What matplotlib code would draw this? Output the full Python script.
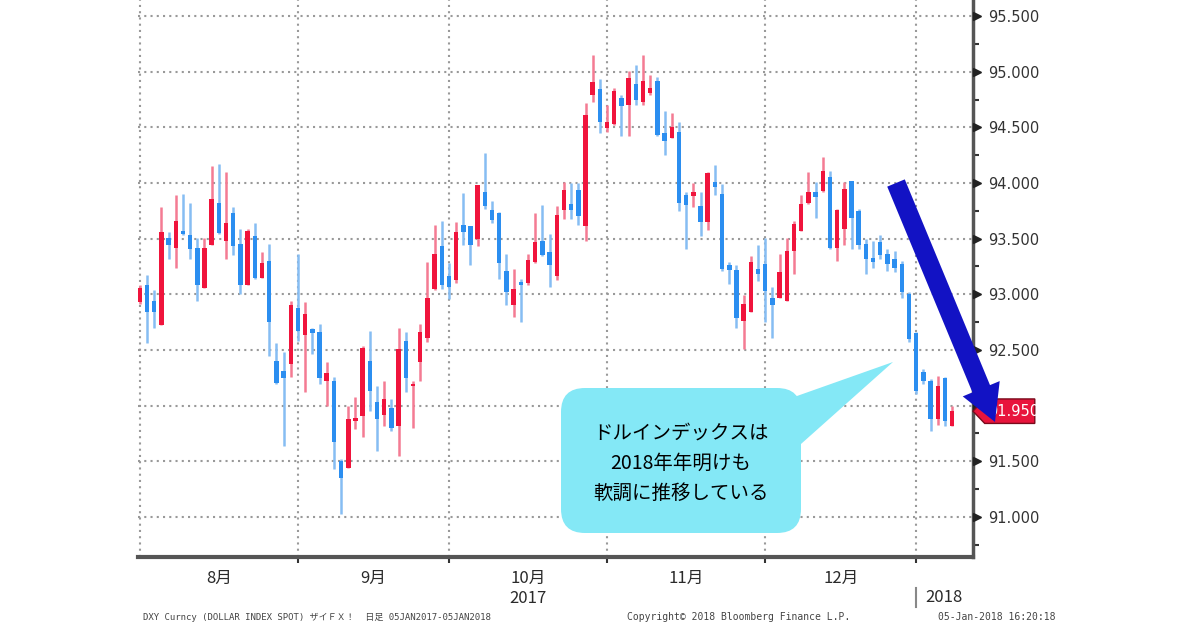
import numpy as np
import matplotlib
matplotlib.use('Agg')
import matplotlib.pyplot as plt
from matplotlib.patches import Polygon, FancyBboxPatch
from matplotlib.transforms import blended_transform_factory

plt.rcParams['font.family'] = ['DejaVu Sans', 'Noto Sans CJK JP']

# daily DXY candles, 2017-08 .. 2018-01-05
opens = [92.93, 93.08, 92.94, 92.72, 93.51, 93.42, 93.57, 93.53, 93.42, 93.06,
         93.44, 93.82, 93.48, 93.73, 93.45, 93.08, 93.52, 93.15, 93.30, 92.40,
         92.31, 92.37, 92.88, 92.63, 92.69, 92.66, 92.22, 92.22, 91.50, 91.44,
         91.86, 91.91, 92.40, 92.03, 91.92, 91.98, 91.82, 92.58, 92.18, 92.39,
         92.61, 93.05, 93.43, 93.16, 93.13, 93.62, 93.61, 93.50, 93.92, 93.76,
         93.73, 93.21, 92.90, 93.11, 93.10, 93.29, 93.48, 93.38, 93.16, 93.76,
         93.81, 93.94, 93.61, 94.79, 94.84, 94.49, 94.53, 94.76, 94.70, 94.89,
         94.73, 94.81, 94.92, 94.45, 94.40, 94.46, 93.89, 93.88, 93.79, 93.65,
         94.01, 93.90, 93.26, 93.22, 92.76, 92.84, 93.23, 93.27, 92.97, 92.97,
         92.94, 93.39, 93.57, 93.82, 93.92, 93.93, 94.05, 93.42, 93.59, 94.02,
         93.75, 93.45, 93.33, 93.47, 93.36, 93.32, 93.27, 93.00, 92.65, 92.30,
         92.22, 91.88, 92.25, 91.82]
highs = [93.08, 93.17, 93.04, 93.78, 93.56, 93.89, 93.90, 93.82, 93.51, 93.51,
         94.15, 94.17, 94.10, 93.78, 93.59, 93.59, 93.64, 93.38, 93.45, 92.56,
         92.48, 92.94, 93.36, 92.93, 92.70, 92.73, 92.39, 92.26, 91.52, 92.00,
         92.08, 92.54, 92.67, 92.18, 92.22, 92.06, 92.70, 92.66, 92.22, 92.73,
         93.29, 93.62, 93.66, 93.28, 93.65, 93.91, 93.61, 93.98, 94.27, 93.84,
         93.74, 93.36, 93.23, 93.14, 93.36, 93.73, 93.80, 93.54, 93.79, 94.01,
         94.00, 94.00, 94.72, 95.15, 94.93, 94.70, 94.85, 94.79, 95.01, 95.06,
         95.15, 94.97, 94.95, 94.65, 94.63, 94.55, 93.92, 94.00, 93.92, 94.10,
         94.16, 93.99, 93.29, 93.26, 92.99, 93.34, 93.44, 93.51, 93.07, 93.36,
         93.51, 93.66, 93.89, 94.10, 94.01, 94.23, 94.11, 93.77, 94.01, 94.02,
         93.77, 93.50, 93.48, 93.53, 93.41, 93.39, 93.30, 93.02, 92.66, 92.33,
         92.24, 92.27, 92.26, 92.00]
lows = [92.91, 92.56, 92.70, 92.72, 93.32, 93.24, 93.53, 93.32, 92.94, 93.06,
        93.44, 93.54, 93.32, 93.35, 93.00, 93.08, 93.14, 93.15, 92.45, 92.19,
        91.64, 92.26, 92.58, 92.12, 92.46, 92.19, 92.00, 91.43, 91.03, 91.44,
        91.79, 91.72, 91.95, 91.59, 91.82, 91.77, 91.55, 92.12, 91.80, 92.22,
        92.57, 93.04, 93.05, 92.96, 93.10, 93.44, 93.26, 93.43, 93.77, 93.64,
        93.14, 92.90, 92.80, 92.75, 93.08, 93.28, 93.34, 93.07, 93.13, 93.68,
        93.68, 93.62, 93.48, 94.73, 94.45, 94.46, 94.52, 94.42, 94.42, 94.70,
        94.70, 94.79, 94.42, 94.25, 94.40, 93.75, 93.41, 93.78, 93.52, 93.58,
        93.89, 93.21, 93.09, 92.70, 92.51, 92.84, 93.12, 92.75, 92.61, 92.97,
        92.94, 93.18, 93.57, 93.81, 93.69, 93.92, 93.41, 93.30, 93.44, 93.41,
        93.41, 93.18, 93.24, 93.32, 93.21, 93.20, 92.97, 92.57, 92.10, 92.19,
        91.77, 91.83, 91.82, 91.82]
closes = [93.06, 92.84, 92.84, 93.56, 93.44, 93.66, 93.54, 93.41, 93.08, 93.42,
          93.86, 93.55, 93.64, 93.43, 93.08, 93.57, 93.15, 93.28, 92.75, 92.20,
          92.25, 92.90, 92.67, 92.82, 92.65, 92.25, 92.29, 91.67, 91.35, 91.88,
          91.89, 92.52, 92.13, 91.88, 92.06, 91.80, 92.51, 92.25, 92.19, 92.66,
          92.97, 93.36, 93.08, 93.07, 93.56, 93.56, 93.44, 93.98, 93.79, 93.67,
          93.28, 93.02, 93.05, 93.08, 93.31, 93.47, 93.35, 93.26, 93.71, 93.94,
          93.76, 93.70, 94.61, 94.91, 94.55, 94.55, 94.83, 94.69, 94.94, 94.75,
          94.92, 94.85, 94.43, 94.38, 94.50, 93.82, 93.80, 93.92, 93.65, 94.09,
          93.96, 93.23, 93.22, 92.79, 92.91, 93.29, 93.18, 93.03, 92.90, 93.20,
          93.39, 93.63, 93.81, 93.92, 93.87, 94.11, 93.42, 93.76, 93.95, 93.69,
          93.44, 93.32, 93.29, 93.35, 93.27, 93.24, 93.02, 92.60, 92.13, 92.22,
          91.88, 92.18, 91.86, 91.95]

# index of first trading day of each month
month_starts = [0, 22, 43, 65, 87, 108]
month_names = ['8月', '9月', '10月', '11月', '12月']
y_ticks = [91.0, 91.5, 92.0, 92.5, 93.0, 93.5, 94.0, 94.5, 95.0, 95.5]
last_price = closes[-1]

callout_lines = ['ドルインデックスは', '2018年年明けも', '軟調に推移している']
footer_left = 'DXY Curncy (DOLLAR INDEX SPOT) ザイＦＸ！  日足 05JAN2017-05JAN2018'
footer_mid = 'Copyright© 2018 Bloomberg Finance L.P.'
footer_right = '05-Jan-2018 16:20:18'

o = np.array(opens); h = np.array(highs); l = np.array(lows); c = np.array(closes)
x = np.arange(len(o))
up = c >= o

fig = plt.figure(figsize=(12, 6.3), dpi=100)
ax = fig.add_axes([138 / 1200, 1 - 557 / 630, (973 - 138) / 1200, 557 / 630])
ax.set_xlim(-0.25, 115.9)
ax.set_ylim(90.64, 95.644)

# dotted grid
for v in y_ticks:
    ax.axhline(v, color='#999999', linestyle=(0, (1, 2)), linewidth=1.5, zorder=1)
for s in month_starts:
    ax.axvline(s, color='#999999', linestyle=(0, (1, 2)), linewidth=1.5, zorder=1)

# candles: red = up, blue = down
wick_col = np.where(up, '#f47b93', '#86bdf3')
body_col = np.where(up, '#f0143c', '#2b8ef0')
ax.vlines(x, l, h, colors=wick_col, linewidth=1.8, zorder=2)
ax.bar(x, np.maximum(np.abs(c - o), 0.018), bottom=np.minimum(o, c), width=0.62,
       color=body_col, linewidth=0, zorder=3)

# axes styling
for sp in ['left', 'top']:
    ax.spines[sp].set_visible(False)
ax.spines['right'].set_color('#555555')
ax.spines['right'].set_linewidth(2.5)
ax.spines['bottom'].set_color('#555555')
ax.spines['bottom'].set_linewidth(3)

ax.yaxis.tick_right()
ax.set_yticks(y_ticks)
ax.set_yticklabels(['' if v == 92.0 else f'{v:.3f}' for v in y_ticks])
ax.set_yticks(np.arange(90.75, 95.6, 0.5), minor=True)
ax.tick_params(axis='y', which='major', length=0, pad=11, labelsize=10.5,
               labelcolor='#333333')
ax.tick_params(axis='y', which='minor', length=4, width=1.5, color='#333333')
ax.set_xticks(month_starts[1:])
ax.set_xticklabels([])
ax.tick_params(axis='x', length=4, width=1.5, color='#333333')

ytr = blended_transform_factory(ax.transAxes, ax.transData)
xtr = blended_transform_factory(ax.transData, ax.transAxes)
ax.plot(np.full(len(y_ticks), 1.005), y_ticks, linestyle='none', marker='>',
        markersize=6, color='#222222', transform=ytr, clip_on=False, zorder=6)

# month labels
cjk = ['Noto Sans CJK JP']
for i, name in enumerate(month_names):
    mid = (month_starts[i] + month_starts[i + 1]) / 2
    ax.text(mid, -0.038, name, transform=xtr, ha='center', va='center',
            fontsize=12, color='#2a2a2a', family=cjk)
ax.text((month_starts[2] + month_starts[3]) / 2, -0.074, '2017', transform=xtr,
        ha='center', va='center', fontsize=12, color='#2a2a2a', family=cjk)
ax.plot([month_starts[-1], month_starts[-1]], [-0.056, -0.09], color='#888888',
        linewidth=1.5, transform=xtr, clip_on=False)
ax.text(month_starts[-1] + 1.2, -0.073, '2018', transform=xtr, ha='left', va='center',
        fontsize=12, color='#2a2a2a', family=cjk)

# last price tag
hh = 0.11
tag = Polygon([(1.0, last_price), (1.014, last_price + hh), (1.074, last_price + hh),
               (1.074, last_price - hh), (1.014, last_price - hh)],
              closed=True, facecolor='#e8143c', edgecolor='#7a0a1c', linewidth=1,
              transform=ytr, clip_on=False, zorder=10)
ax.add_patch(tag)
ax.text(1.018, last_price, f'{last_price:.3f}', transform=ytr, ha='left', va='center',
        fontsize=10.5, color='white', zorder=11, clip_on=False)

# overlay in pixel coords for the annotations
ov = fig.add_axes([0, 0, 1, 1], zorder=20)
ov.set_xlim(0, 1200)
ov.set_ylim(630, 0)
ov.axis('off')
ov.patch.set_alpha(0)

bubble = '#84e8f6'
ov.add_patch(Polygon([(780, 402), (893, 362), (792, 452)], closed=True,
                     facecolor=bubble, edgecolor='none'))
ov.add_patch(FancyBboxPatch((561, 388), 240, 145, boxstyle='round,pad=0,rounding_size=24',
                            facecolor=bubble, edgecolor='none'))
for k, line in enumerate(callout_lines):
    ov.text(681, 433 + 30 * k, line, ha='center', va='center', fontsize=14,
            color='#000000', family=cjk)

# blue arrow
S = np.array([896.0, 183.0]); T = np.array([995.0, 422.0])
u = (T - S) / np.linalg.norm(T - S)
n = np.array([-u[1], u[0]])
B = T - u * 36
pts = [S + n * 9.5, B + n * 9.5, B + n * 20, T, B - n * 20, B - n * 9.5, S - n * 9.5]
ov.add_patch(Polygon(pts, closed=True, facecolor='#1212c4', edgecolor='none'))

# footer
mono = ['DejaVu Sans Mono', 'Noto Sans CJK JP']
ov.text(143, 617, footer_left, fontsize=6.5, color='#444444', va='center', family=mono)
ov.text(627, 617, footer_mid, fontsize=7, color='#444444', va='center', family=mono)
ov.text(938, 617, footer_right, fontsize=7, color='#444444', va='center', family=mono)

fig.savefig('out.png', dpi=100)
